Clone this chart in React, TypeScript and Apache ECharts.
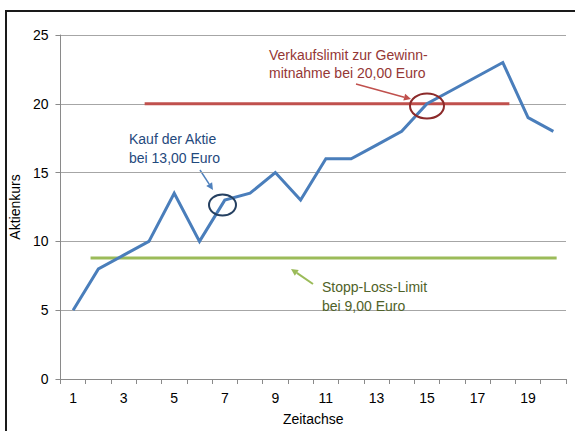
import React, { useEffect, useRef } from "react";
import * as echarts from "echarts";

const categories = ["1","2","3","4","5","6","7","8","9","10","11","12","13","14","15","16","17","18","19","20"];
const kurs = [5, 8, 9, 10, 13.5, 10, 13, 13.5, 15, 13, 16, 16, 17, 18, 20, 21, 22, 23, 19, 18];
const verkaufslimit = [[3.83, 20], [18.26, 20]];
const stoppLoss = [[1.69, 8.8], [20.13, 8.8]];
const yTicks = { min: 0, max: 25, interval: 5 };

const FONT = "'Liberation Sans', Arial, sans-serif";

function arrow(x1: number, y1: number, x2: number, y2: number, color: string, w: number, head: number) {
  const ang = Math.atan2(y2 - y1, x2 - x1);
  const hx = x2 - Math.cos(ang) * head;
  const hy = y2 - Math.sin(ang) * head;
  const px = -Math.sin(ang) * head * 0.5;
  const py = Math.cos(ang) * head * 0.5;
  return {
    type: "group",
    children: [
      { type: "line", shape: { x1, y1, x2: hx, y2: hy }, style: { stroke: color, lineWidth: w } },
      { type: "polygon", shape: { points: [[x2, y2], [hx + px, hy + py], [hx - px, hy - py]] }, style: { fill: color } },
    ],
  };
}

export default function App() {
  const ref = useRef<HTMLDivElement>(null);
  useEffect(() => {
    if (!ref.current) return;
    const chart = echarts.init(ref.current, null, { renderer: "svg" });
    const axisGray = "#8a8a8a";
    chart.setOption({
      animation: false,
      backgroundColor: "#ffffff",
      textStyle: { fontFamily: FONT },
      grid: { left: 58, right: 9, top: 35, bottom: 48 },
      xAxis: [
        {
          type: "category",
          data: categories,
          boundaryGap: true,
          name: "Zeitachse",
          nameLocation: "middle",
          nameGap: 33,
          nameTextStyle: { fontSize: 14, color: "#000", fontFamily: FONT },
          axisLine: { lineStyle: { color: axisGray, width: 1 } },
          axisTick: { show: true, interval: 0, length: 5, lineStyle: { color: axisGray } },
          axisLabel: { interval: 1, fontSize: 14, color: "#000", margin: 12, fontFamily: FONT },
          splitLine: { show: false },
        },
        { type: "value", min: 0.5, max: 20.5, show: false },
      ],
      yAxis: {
        type: "value",
        min: yTicks.min,
        max: yTicks.max,
        interval: yTicks.interval,
        name: "Aktienkurs",
        nameLocation: "middle",
        nameGap: 36,
        nameRotate: 90,
        nameTextStyle: { fontSize: 14, color: "#000", fontFamily: FONT },
        axisLine: { show: true, lineStyle: { color: axisGray, width: 1 } },
        axisTick: { show: true, length: 5, lineStyle: { color: axisGray } },
        axisLabel: { fontSize: 14, color: "#000", margin: 12, fontFamily: FONT },
        splitLine: { show: true, lineStyle: { color: "#a6a6a6", width: 1 } },
      },
      series: [
        {
          name: "Verkaufslimit",
          type: "line",
          xAxisIndex: 1,
          data: verkaufslimit,
          symbol: "none",
          lineStyle: { color: "#c0504d", width: 3 },
          z: 2,
        },
        {
          name: "Stopp-Loss",
          type: "line",
          xAxisIndex: 1,
          data: stoppLoss,
          symbol: "none",
          lineStyle: { color: "#9bbb59", width: 3 },
          z: 2,
        },
        {
          name: "Aktienkurs",
          type: "line",
          xAxisIndex: 0,
          data: kurs,
          symbol: "none",
          lineStyle: { color: "#4a7ebb", width: 3, join: "miter" },
          z: 3,
        },
      ],
      graphic: [
        { type: "rect", shape: { x: 6, y: 11, width: 700, height: 600 }, style: { fill: "none", stroke: "#1a1a1a", lineWidth: 2 }, z: 10 },
        { type: "text", x: 269, y: 46, style: { text: "Verkaufslimit zur Gewinn-\nmitnahme bei 20,00 Euro", fill: "#953735", font: `14px ${FONT}`, lineHeight: 18 }, z: 10 },
        arrow(356, 84, 411, 99, "#c0504d", 1.5, 7),
        { type: "ellipse", shape: { cx: 427, cy: 106, rx: 17, ry: 12.5 }, style: { fill: "none", stroke: "#8c2a2a", lineWidth: 2 }, z: 10 },
        { type: "text", x: 129, y: 129, style: { text: "Kauf der Aktie\nbei 13,00 Euro", fill: "#1f497d", font: `14px ${FONT}`, lineHeight: 19 }, z: 10 },
        arrow(200, 170, 213, 190, "#4f81bd", 1.5, 7),
        { type: "ellipse", shape: { cx: 222.5, cy: 205, rx: 13.5, ry: 10.5 }, style: { fill: "none", stroke: "#254061", lineWidth: 2 }, z: 10 },
        { type: "text", x: 322, y: 277, style: { text: "Stopp-Loss-Limit\nbei 9,00 Euro", fill: "#4f6228", font: `14px ${FONT}`, lineHeight: 19 }, z: 10 },
        arrow(313, 284, 291, 269, "#9bbb59", 2, 7),
      ],
    });
    return () => chart.dispose();
  }, []);
  return <div ref={ref} style={{ position: "fixed", left: 0, top: 0, width: 575, height: 431 }} />;
}
